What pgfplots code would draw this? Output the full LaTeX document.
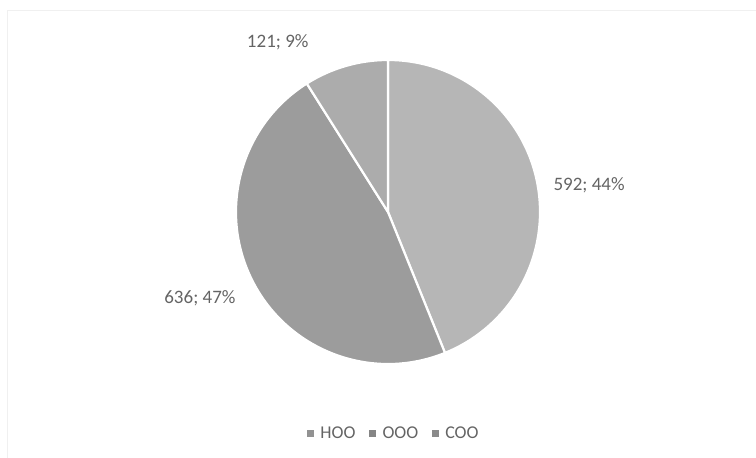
\documentclass[border=0pt]{standalone}
\usepackage{pgfplots}
\pgfplotsset{compat=1.18}
\usepackage{pgfplotstable}
\usepackage{fontspec}
\setmainfont{Carlito}

\definecolor{hoo}{RGB}{182,182,182}
\definecolor{ooo}{RGB}{156,156,156}
\definecolor{coo}{RGB}{172,172,172}
\definecolor{txt}{RGB}{100,100,100}

% slices, clockwise from 12 o'clock
\pgfplotstableread{
label value
HOO 592
OOO 636
COO 121
}\pietable

\pgfplotstablegetelem{0}{value}\of\pietable \let\va\pgfplotsretval
\pgfplotstablegetelem{1}{value}\of\pietable \let\vb\pgfplotsretval
\pgfplotstablegetelem{2}{value}\of\pietable \let\vc\pgfplotsretval
\pgfmathsetmacro\tot{\va+\vb+\vc}
\pgfmathsetmacro\aA{90}
\pgfmathsetmacro\aB{\aA-360*(\va/\tot)}
\pgfmathsetmacro\aC{\aB-360*(\vb/\tot)}
\pgfmathsetmacro\aD{\aC-360*(\vc/\tot)}

\begin{document}
\begin{tikzpicture}
\begin{axis}[
    at={(0,0)}, anchor=south west,
    width=756pt, height=458pt, scale only axis,
    xmin=0, xmax=756, ymin=0, ymax=458,
    hide axis, clip=false,
    legend style={draw=none, fill=none, at={(axis cs:394,25)}, anchor=center,
      legend columns=3, font=\fontsize{18}{21}\selectfont\color{txt},
      /tikz/every odd column/.append style={column sep=5pt},
      /tikz/every even column/.append style={column sep=12pt}},
    legend cell align=left,
  ]
  % chart area frame
  \draw[gray!12, line width=0.8pt] (axis cs:7.5,0) -- (axis cs:7.5,448) -- (axis cs:756,448);

  \fill[hoo, draw=white, line width=2.2pt] (axis cs:388,246) -- ++(\aA:152pt)
    arc[start angle=\aA, end angle=\aB, radius=152pt] -- cycle;
  \fill[ooo, draw=white, line width=2.2pt] (axis cs:388,246) -- ++(\aB:152pt)
    arc[start angle=\aB, end angle=\aC, radius=152pt] -- cycle;
  \fill[coo, draw=white, line width=2.2pt] (axis cs:388,246) -- ++(\aC:152pt)
    arc[start angle=\aC, end angle=\aD, radius=152pt] -- cycle;

  \begin{scope}[every node/.style={font=\fontsize{19}{22}\selectfont, text=txt}]
    \node[anchor=west] at (axis cs:550,273) {592; 44\%};
    \node[anchor=east] at (axis cs:239,160) {636; 47\%};
    \node[anchor=east] at (axis cs:312,416) {121; 9\%};
  \end{scope}

  \addlegendimage{only marks, mark=square*, mark size=3pt, color=hoo!80!black}
  \addlegendentry{HOO}
  \addlegendimage{only marks, mark=square*, mark size=3pt, color=ooo!85!black}
  \addlegendentry{OOO}
  \addlegendimage{only marks, mark=square*, mark size=3pt, color=coo!80!black}
  \addlegendentry{COO}
\end{axis}
\pgfresetboundingbox
\useasboundingbox (0,0) rectangle (756pt,458pt);
\end{tikzpicture}
\end{document}
